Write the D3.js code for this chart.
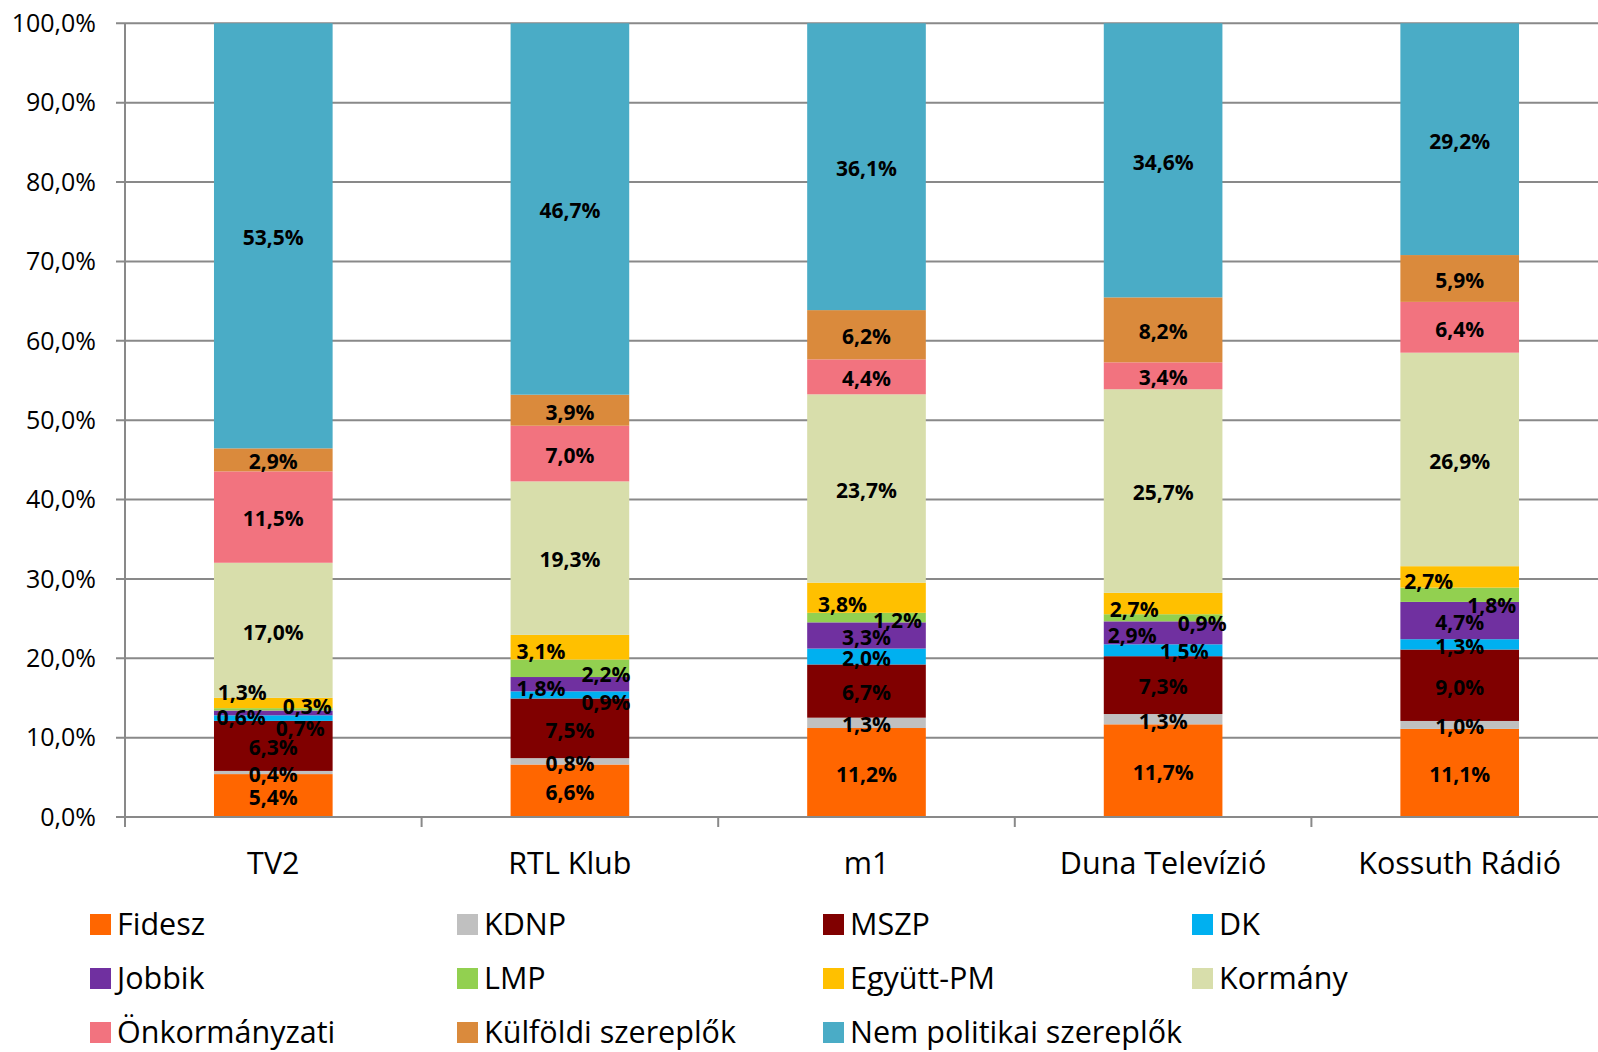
<!DOCTYPE html>
<html><head><meta charset="utf-8">
<script src="https://cdn.jsdelivr.net/npm/d3@7/dist/d3.min.js"></script>
<style>
html,body{margin:0;padding:0;background:#fff;}
svg{display:block;}
text{font-family:"Open Sans","Noto Sans",sans-serif;}
</style></head>
<body><svg id="c" width="1598" height="1052"></svg>
<script>
const categories = ["TV2","RTL Klub","m1","Duna Televízió","Kossuth Rádió"];
const series = ["Fidesz","KDNP","MSZP","DK","Jobbik","LMP","Együtt-PM","Kormány","Önkormányzati","Külföldi szereplők","Nem politikai szereplők"];
const fidesz    = [5.4, 6.6, 11.2, 11.7, 11.1];
const kdnp      = [0.4, 0.8, 1.3, 1.3, 1.0];
const mszp      = [6.3, 7.5, 6.7, 7.3, 9.0];
const dk        = [0.7, 0.9, 2.0, 1.5, 1.3];
const jobbik    = [0.6, 1.8, 3.3, 2.9, 4.7];
const lmp       = [0.3, 2.2, 1.2, 0.9, 1.8];
const egyutt    = [1.3, 3.1, 3.8, 2.7, 2.7];
const kormany   = [17.0, 19.3, 23.7, 25.7, 26.9];
const onkorm    = [11.5, 7.0, 4.4, 3.4, 6.4];
const kulfoldi  = [2.9, 3.9, 6.2, 8.2, 5.9];
const nempol    = [53.5, 46.7, 36.1, 34.6, 29.2];
const yTicks = [0,0.1,0.2,0.3,0.4,0.5,0.6,0.7,0.8,0.9,1.0];

const seriesValues = [fidesz,kdnp,mszp,dk,jobbik,lmp,egyutt,kormany,onkorm,kulfoldi,nempol];
const colors = ["#FF6600","#C0C0C0","#800000","#00B0F0","#7030A0","#92D050","#FFC000","#D8DEAB","#F2737F","#DA8A3C","#4AACC6"];

// label nudges (layout only): [dx, dy] in px
const labelNudge = {
  "TV2|DK":[27,9], "TV2|Jobbik":[-32,3], "TV2|LMP":[34,-5], "TV2|Együtt-PM":[-31,-12],
  "RTL Klub|DK":[36,6], "RTL Klub|Jobbik":[-29,2], "RTL Klub|LMP":[36,4], "RTL Klub|Együtt-PM":[-29,2],
  "m1|LMP":[31,1], "m1|Együtt-PM":[-24,5],
  "Duna Televízió|DK":[21,-1], "Duna Televízió|Jobbik":[-31,1], "Duna Televízió|LMP":[39,4], "Duna Televízió|Együtt-PM":[-29,4],
  "Kossuth Rádió|LMP":[32,9], "Kossuth Rádió|Együtt-PM":[-31,3]
};

const table = categories.map((c,i)=>{
  const o = {cat:c};
  series.forEach((s,j)=>o[s]=seriesValues[j][i]);
  return o;
});

const svg = d3.select("#c");
const pLeft = 125, pRight = 1608, pTop = 23.3, pBottom = 817;
const x = d3.scaleBand().domain(categories).range([pLeft,pRight]).paddingInner(0.6).paddingOuter(0.3);
const y = d3.scaleLinear().domain([0,1]).range([pBottom,pTop]);
const color = d3.scaleOrdinal().domain(series).range(colors);

const stack = d3.stack().keys(series).offset(d3.stackOffsetExpand);
const stacked = stack(table);

// gridlines
svg.append("g").selectAll("line").data(yTicks).join("line")
  .attr("x1",116).attr("x2",pRight).attr("y1",d=>y(d)).attr("y2",d=>y(d))
  .attr("stroke","#898989").attr("stroke-width",2);

// y labels
const fmt = v => (v*100).toFixed(1).replace(".",",")+"%";
svg.append("g").selectAll("text").data(yTicks).join("text")
  .attr("x",96).attr("y",d=>y(d)).attr("dy","0.35em").attr("text-anchor","end")
  .attr("font-size",25).attr("fill","#000").text(fmt);

// bars
const g = svg.append("g");
stacked.forEach(layer=>{
  g.append("g").attr("fill",color(layer.key)).selectAll("rect").data(layer).join("rect")
    .attr("x",d=>x(d.data.cat)).attr("width",x.bandwidth())
    .attr("y",d=>y(d[1])).attr("height",d=>y(d[0])-y(d[1]));
});

// axes lines
svg.append("line").attr("x1",pLeft).attr("x2",pLeft).attr("y1",pTop).attr("y2",pBottom+10).attr("stroke","#898989").attr("stroke-width",2);
svg.append("line").attr("x1",116).attr("x2",pRight).attr("y1",pBottom).attr("y2",pBottom).attr("stroke","#898989").attr("stroke-width",2);
// category boundary ticks
categories.forEach((c,i)=>{
  if(i===0) return;
  const bx = x(categories[i-1]) + x.bandwidth() + (x(c) - x(categories[i-1]) - x.bandwidth())/2;
  svg.append("line").attr("x1",bx).attr("x2",bx).attr("y1",pBottom).attr("y2",pBottom+10).attr("stroke","#898989").attr("stroke-width",2);
});

// category labels
svg.append("g").selectAll("text").data(categories).join("text")
  .attr("x",d=>x(d)+x.bandwidth()/2).attr("y",863).attr("dy","0.35em").attr("text-anchor","middle")
  .attr("font-size",30.5).attr("fill","#000").text(d=>d);

// value labels
const vfmt = v => v.toFixed(1).replace(".",",")+"%";
stacked.forEach((layer,j)=>{
  layer.forEach((d,i)=>{
    const cat = d.data.cat;
    const n = labelNudge[cat+"|"+layer.key] || [0,0];
    svg.append("text")
      .attr("x",x(cat)+x.bandwidth()/2+n[0])
      .attr("y",(y(d[0])+y(d[1]))/2+n[1]+2)
      .attr("dy","0.35em").attr("text-anchor","middle")
      .attr("font-size",21).attr("font-weight","bold").attr("fill","#000")
      .text(vfmt(seriesValues[j][i]));
  });
});

// legend
const legCols = [90,457,823,1192], legRows = [924,978,1032];
series.forEach((s,k)=>{
  const cx = legCols[k%4], cy = legRows[Math.floor(k/4)];
  svg.append("rect").attr("x",cx).attr("y",cy-10).attr("width",21).attr("height",21).attr("fill",color(s));
  svg.append("text").attr("x",cx+27).attr("y",cy).attr("dy","0.35em").attr("font-size",30.5).attr("fill","#000").text(s);
});
</script></body></html>
